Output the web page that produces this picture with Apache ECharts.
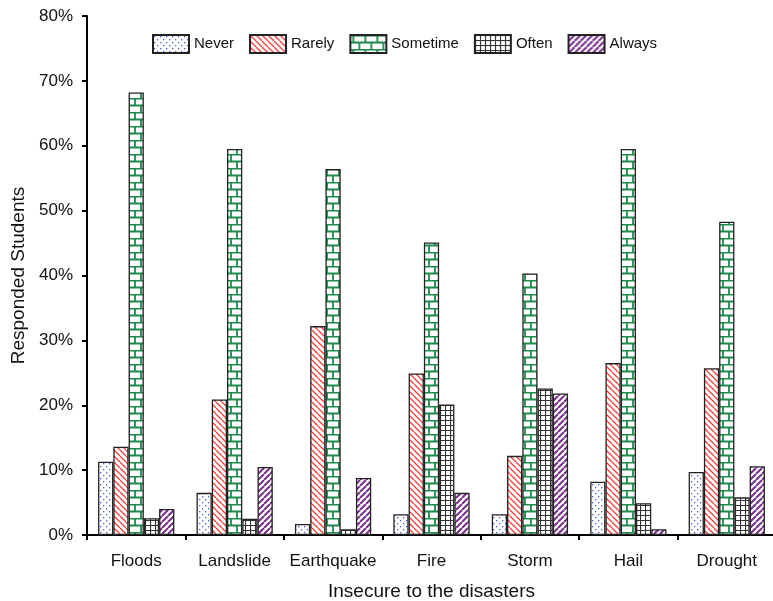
<!DOCTYPE html>
<html>
<head>
<meta charset="utf-8">
<script src="https://cdn.jsdelivr.net/npm/echarts@6/dist/echarts.min.js"></script>
<style>
html,body{margin:0;padding:0;background:#fff;}
#chart{width:773px;height:601px;}
</style>
</head>
<body>
<div id="chart"></div>
<script>
// ---- Data ----
const categories = ['Floods', 'Landslide', 'Earthquake', 'Fire', 'Storm', 'Hail', 'Drought'];
const seriesNames = ['Never', 'Rarely', 'Sometime', 'Often', 'Always'];
const never    = [11.3, 6.5, 1.7, 3.2, 3.2, 8.2, 9.7];
const rarely   = [13.6, 20.9, 32.2, 24.9, 12.2, 26.5, 25.7];
const sometime = [68.2, 59.5, 56.4, 45.1, 40.3, 59.5, 48.3];
const often    = [2.6, 2.5, 0.9, 20.1, 22.6, 4.9, 5.8];
const always   = [4.0, 10.5, 8.8, 6.5, 21.8, 0.9, 10.6];
const yTicks = [0, 10, 20, 30, 40, 50, 60, 70, 80];

// ---- Patterns ----
function mk(w, h, draw) {
  const c = document.createElement('canvas');
  c.width = w; c.height = h;
  const ctx = c.getContext('2d');
  ctx.fillStyle = '#fff';
  ctx.fillRect(0, 0, w, h);
  draw(ctx, w, h);
  return { image: c, repeat: 'repeat' };
}
const patNever = mk(6, 6, (ctx) => {
  ctx.fillStyle = '#4a5fc8';
  ctx.fillRect(1, 1, 1.3, 1.3);
  ctx.fillRect(4, 4, 1.3, 1.3);
});
const patRarely = mk(6, 6, (ctx, w, h) => {
  ctx.strokeStyle = '#f0403a';
  ctx.lineWidth = 1.3;
  for (let k = -1; k <= 1; k++) {
    ctx.beginPath();
    ctx.moveTo(k * w, 0);
    ctx.lineTo(k * w + w, h);
    ctx.stroke();
  }
});
const patSometime = mk(12, 14, (ctx, w, h) => {
  ctx.strokeStyle = '#1e8a4c';
  ctx.lineWidth = 1.8;
  ctx.beginPath();
  ctx.moveTo(0, 0.5); ctx.lineTo(w, 0.5);
  ctx.moveTo(0, 7.5); ctx.lineTo(w, 7.5);
  ctx.moveTo(3, 0); ctx.lineTo(3, 7);
  ctx.moveTo(9, 7); ctx.lineTo(9, 14);
  ctx.stroke();
});
const patOften = mk(5, 5, (ctx) => {
  ctx.strokeStyle = '#333';
  ctx.lineWidth = 1.2;
  ctx.beginPath();
  ctx.moveTo(0, 0.5); ctx.lineTo(5, 0.5);
  ctx.moveTo(0.5, 0); ctx.lineTo(0.5, 5);
  ctx.stroke();
});
const patAlways = mk(6, 6, (ctx, w, h) => {
  ctx.strokeStyle = '#7a2f8c';
  ctx.lineWidth = 2;
  for (let k = -1; k <= 1; k++) {
    ctx.beginPath();
    ctx.moveTo(k * w, h);
    ctx.lineTo(k * w + w, 0);
    ctx.stroke();
  }
});
const patterns = [patNever, patRarely, patSometime, patOften, patAlways];
const dataSets = [never, rarely, sometime, often, always];

const font = 'Liberation Sans, Arial, sans-serif';
const chart = echarts.init(document.getElementById('chart'), null, { renderer: 'canvas' });
chart.setOption({
  animation: false,
  backgroundColor: '#fff',
  textStyle: { fontFamily: font },
  legend: {
    left: 152, top: 34, padding: 0,
    icon: 'rect',
    itemWidth: 36, itemHeight: 18, itemGap: 15,
    textStyle: { fontSize: 15, color: '#111', fontFamily: font },
    data: seriesNames
  },
  grid: { left: 87, top: 16, width: 689, bottom: 66, containLabel: false, outerBoundsMode: 'none' },
  xAxis: {
    type: 'category',
    data: categories,
    name: 'Insecure to the disasters',
    nameLocation: 'middle',
    nameGap: 47,
    nameTextStyle: { fontSize: 19, color: '#111', fontFamily: font },
    axisLine: { lineStyle: { color: '#000', width: 2 } },
    axisTick: { show: true, length: 5, lineStyle: { color: '#000', width: 2 } },
    axisLabel: { fontSize: 17, color: '#111', margin: 18, interval: 0, fontFamily: font },
    splitLine: { show: false }
  },
  yAxis: {
    type: 'value',
    min: yTicks[0], max: yTicks[yTicks.length - 1], interval: 10,
    name: 'Responded Students',
    nameLocation: 'middle',
    nameGap: 58,
    nameTextStyle: { fontSize: 19, color: '#111', fontFamily: font },
    axisLine: { show: true, lineStyle: { color: '#000', width: 2 } },
    axisTick: { show: true, length: 5, lineStyle: { color: '#000', width: 2 } },
    axisLabel: { fontSize: 17, color: '#111', margin: 14, formatter: '{value}%', fontFamily: font },
    splitLine: { show: false }
  },
  series: seriesNames.map((n, i) => ({
    name: n,
    type: 'bar',
    data: dataSets[i],
    barGap: '0%',
    barCategoryGap: '22.5%',
    itemStyle: { color: patterns[i], borderColor: '#222', borderWidth: 1.3 }
  }))
});
</script>
</body>
</html>
